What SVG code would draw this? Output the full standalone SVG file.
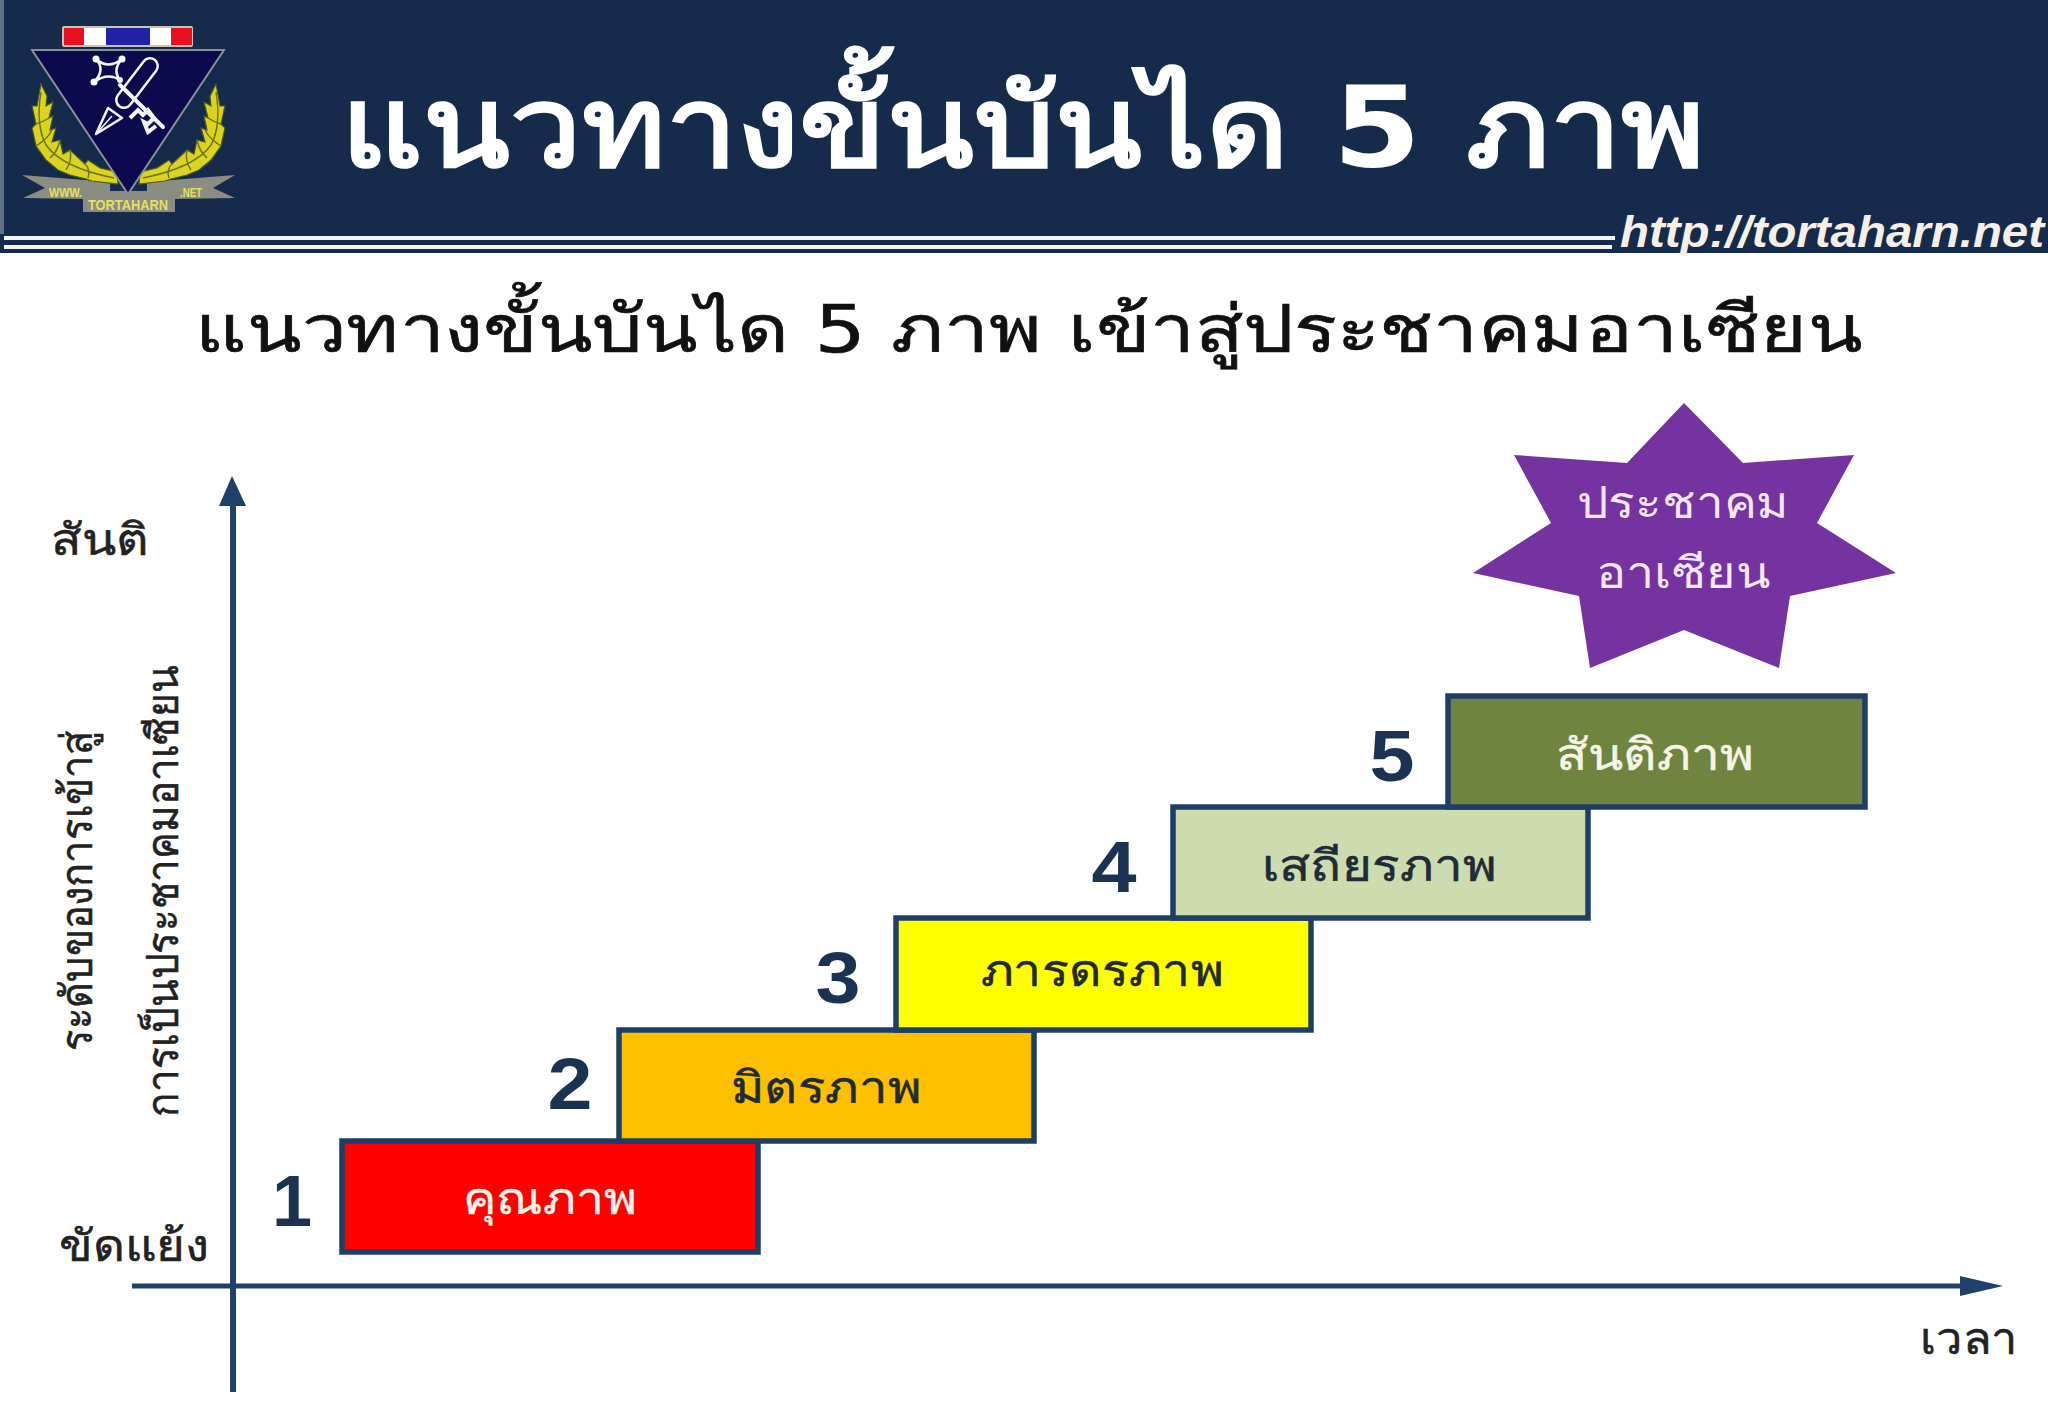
<svg xmlns="http://www.w3.org/2000/svg" width="2048" height="1418" viewBox="0 0 2048 1418">
<defs>
<g id="wreath">
<path d="M41 84L47 96L46 106L53 102L49 118L53 116L50 130L56 128L52 142L60 140L63 154L70 150L85 164L88 160L100 168L117 172L118 184L92 181L86 179L70 175L58 170L46 160L36 146L32 128L36 124L32 106L37 106Z" fill="#dcd31f" stroke="#4d5a24" stroke-width="1.200"/>
<path d="M41 92C38 110 38 130 46 145C58 162 84 172 114 178M36 124C42 122 46 120 49 118M36 146C42 142 48 138 52 130M50 158C54 154 58 150 60 140M66 170C70 164 72 158 70 150M88 178C90 172 88 166 85 164" fill="none" stroke="#6f7420" stroke-width="1.500"/>
</g>
</defs>
<style>
.t{font-family:"DejaVu Sans","Noto Sans",sans-serif}
.a{stroke:#1d4168;fill:none}
.b{stroke:#1d3f66;stroke-width:5.500}
.l{font-size:44px;text-anchor:middle;fill:#1f2b36;stroke:#1f2b36;stroke-width:.5px}
.w{fill:#f6f3e8;stroke:#f6f3e8;stroke-width:.4px}
.n{font-family:"Liberation Sans",sans-serif;font-weight:bold;font-size:72px;fill:#1b3352;text-anchor:middle}
.k{font-size:44px;fill:#222;stroke:#222;stroke-width:.5px;text-anchor:middle}
.e{fill:none;stroke:#f4f4f4;stroke-width:2.500;stroke-linejoin:round}
</style>
<rect width="2048" height="1418" fill="#fff"/>
<g id="header">
<rect width="2048" height="253" fill="#152b4b"/>
<rect x="0" y="0" width="4" height="234" fill="#5f6f85"/>
<path d="M4 238H1615M4 247H1612" stroke="#f4f4f4" stroke-width="4" fill="none"/>
<text class="t" x="341" y="166" font-size="112" font-weight="bold" fill="#fff" textLength="1364" lengthAdjust="spacingAndGlyphs">แนวทางขั้นบันได 5 ภาพ</text>
<text x="1620" y="247" font-family="Liberation Sans,sans-serif" font-weight="bold" font-style="italic" font-size="45" fill="#f6efe6" textLength="424" lengthAdjust="spacingAndGlyphs">http://tortaharn.net</text>
</g>
<g id="logo">
<rect x="62" y="26" width="131" height="21" rx="2" fill="#c9c2b8"/>
<rect x="64" y="28" width="20" height="17" fill="#e8101c"/><rect x="84" y="28" width="22" height="17" fill="#fff"/><rect x="106" y="28" width="44" height="17" fill="#2222a8"/><rect x="150" y="28" width="21" height="17" fill="#fff"/><rect x="171" y="28" width="21" height="17" fill="#e8101c"/>
<path d="M22 175L110 182V191H147V182L235 175L213 188L235 198L175 199V212H83V199L23 198L45 188Z" fill="#8b8d82"/>
<use href="#wreath"/>
<use href="#wreath" transform="translate(257 0) scale(-1 1)"/>
<path d="M32 50H224L128 194Z" fill="#0b0a4e" stroke="#8a8f96" stroke-width="2"/>
<path class="e" d="M96 59Q108 70 122 59Q112 70 120 80Q108 72 94 82Q106 70 96 59Z"/>
<path d="M96 134L108 108L122 118Z" fill="none" stroke="#f4f4f4" stroke-width="2.500" stroke-linejoin="round"/>
<path d="M96 134L112 116" stroke="#f4f4f4" stroke-width="1.500"/>
<path d="M124 100L150 66" stroke="#f4f4f4" stroke-width="18" stroke-linecap="round"/>
<path d="M124 100L150 66" stroke="#0b0a4e" stroke-width="13" stroke-linecap="round"/>
<path d="M120 85L163 127" stroke="#f4f4f4" stroke-width="4" stroke-linecap="round"/>
<path d="M130 118L138 110L143 115L148 110L154 118L148 124L144 122L148 132L156 126" fill="none" stroke="#f4f4f4" stroke-width="4"/>
<circle cx="96" cy="59" r="3.500" fill="#fff"/><circle cx="122" cy="59" r="3.500" fill="#fff"/><circle cx="94" cy="82" r="3.500" fill="#fff"/><circle cx="120" cy="80" r="3" fill="#fff"/>
<g font-family="Liberation Sans,sans-serif" font-weight="bold" fill="#e8e060">
<text x="49" y="197" font-size="12" textLength="33" lengthAdjust="spacingAndGlyphs">WWW.</text><text x="180" y="197" font-size="12" textLength="22" lengthAdjust="spacingAndGlyphs">.NET</text><text x="88" y="210" font-size="14" textLength="80" lengthAdjust="spacingAndGlyphs">TORTAHARN</text>
</g>
</g>
<text id="subtitle" class="t" x="195" y="352" font-size="66" fill="#111" stroke="#111" stroke-width=".7" textLength="1667" lengthAdjust="spacingAndGlyphs">แนวทางขั้นบันได 5 ภาพ เข้าสู่ประชาคมอาเซียน</text>
<g id="connectors">
<path class="a" stroke-width="6" d="M233 500V1392"/>
<path class="a" stroke-width="5" d="M132 1286H1970"/>
<path d="M232 476L219 506H246Z" fill="#1d4168"/>
<path d="M2003 1286L1960 1276V1296Z" fill="#1d4168"/>
</g>
<g id="axis-labels">
<text class="t k" x="100" y="555" textLength="98" lengthAdjust="spacingAndGlyphs">สันติ</text>
<text class="t k" x="134" y="1261" textLength="150" lengthAdjust="spacingAndGlyphs">ขัดแย้ง</text>
<text class="t k" x="1969" y="1354" textLength="98" lengthAdjust="spacingAndGlyphs">เวลา</text>
<text class="t k" transform="translate(92 891) rotate(-90)" textLength="320" lengthAdjust="spacingAndGlyphs">ระดับของการเข้าสู่</text>
<text class="t k" transform="translate(178 891) rotate(-90)" textLength="451" lengthAdjust="spacingAndGlyphs">การเป็นประชาคมอาเซียน</text>
</g>
<g id="star">
<polygon points="1684,403 1743,463 1854,455 1817,523 1896,573 1790,596 1779,668 1684,630 1590,668 1579,596 1473,573 1551,523 1514,455 1627,463" fill="#7433a0"/>
<text class="t" x="1683" y="518" font-size="44" fill="#f3e8f8" text-anchor="middle" textLength="212" lengthAdjust="spacingAndGlyphs">ประชาคม</text>
<text class="t" x="1683" y="588" font-size="44" fill="#f3e8f8" text-anchor="middle" textLength="174" lengthAdjust="spacingAndGlyphs">อาเซียน</text>
</g>
<g id="step1"><rect class="b" x="342" y="1141" width="416" height="111" fill="#ff0000"/><text class="t l w" x="550" y="1214" textLength="174" lengthAdjust="spacingAndGlyphs">คุณภาพ</text><text class="n" x="292" y="1226">1</text></g>
<g id="step2"><rect class="b" x="619" y="1030" width="415" height="111" fill="#ffc000"/><text class="t l" x="826" y="1103" textLength="191" lengthAdjust="spacingAndGlyphs">มิตรภาพ</text><text class="n" x="570" y="1109" textLength="45" lengthAdjust="spacingAndGlyphs">2</text></g>
<g id="step3"><rect class="b" x="896" y="918" width="415" height="112" fill="#ffff00"/><text class="t l" x="1102" y="986" textLength="243" lengthAdjust="spacingAndGlyphs">ภารดรภาพ</text><text class="n" x="838" y="1003" textLength="45" lengthAdjust="spacingAndGlyphs">3</text></g>
<g id="step4"><rect class="b" x="1173" y="807" width="415" height="111" fill="#cddcaf"/><text class="t l" x="1379" y="881" textLength="235" lengthAdjust="spacingAndGlyphs">เสถียรภาพ</text><text class="n" x="1114" y="892" textLength="45" lengthAdjust="spacingAndGlyphs">4</text></g>
<g id="step5"><rect class="b" x="1448" y="696" width="417" height="111" fill="#6f843f"/><text class="t l w" x="1655" y="770" textLength="198" lengthAdjust="spacingAndGlyphs">สันติภาพ</text><text class="n" x="1392" y="781" textLength="45" lengthAdjust="spacingAndGlyphs">5</text></g>
</svg>
